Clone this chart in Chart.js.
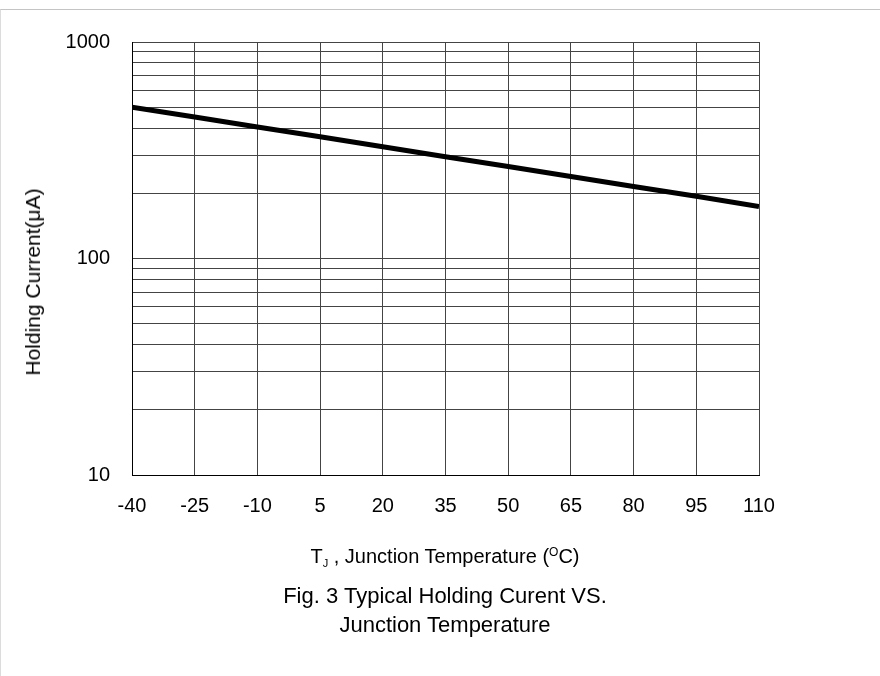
<!DOCTYPE html>
<html>
<head>
<meta charset="utf-8">
<script src="https://cdn.jsdelivr.net/npm/chart.js@4/dist/chart.umd.min.js"></script>
<style>
    html, body { margin: 0; padding: 0; background: #fff; }
    body { width: 880px; height: 676px; position: relative; overflow: hidden;
           font-family: "Liberation Sans", Arial, sans-serif; color: #000; }
    #frame { position: absolute; left: 0; top: 9px; width: 880px; height: 667px;
             border-top: 1px solid #c4c4c4; border-left: 1px solid #dcdcdc; box-sizing: border-box; }
    #chart { position: absolute; left: 0; top: 0; }
    .txt { position: absolute; white-space: nowrap; }
    #y-title { left: 33px; top: 282px; font-size: 21px; line-height: 24px;
               transform: translate(-50%, -50%) rotate(-90deg); }
    #x-title { left: 445px; top: 544px; font-size: 20px; line-height: 24px;
               transform: translateX(-50%); }
    #x-title sub { font-size: 11px; vertical-align: -4px; line-height: 0; }
    #x-title sup { font-size: 12px; vertical-align: 7px; line-height: 0; }
    #caption { left: 445px; top: 581px; font-size: 22px; line-height: 29px;
               transform: translateX(-50%); text-align: center; }
</style>
</head>
<body>
<div id="frame"></div>
<canvas id="chart" width="880" height="676"></canvas>
<div class="txt" id="y-title">Holding Current(μA)</div>
<div class="txt" id="x-title">T<sub>J</sub> , Junction Temperature (<sup>O</sup>C)</div>
<div class="txt" id="caption">Fig. 3 Typical Holding Curent VS.<br>Junction Temperature</div>

<script>
/***************************************************************
 * DONNÉES
 ***************************************************************/
const temperatures = [-40, -25, -10, 5, 20, 35, 50, 65, 80, 95, 110];
const holdingCurrent = [500, 450, 405, 365, 328, 295, 266, 239, 215, 194, 174];

const xTicks = [-40, -25, -10, 5, 20, 35, 50, 65, 80, 95, 110];
const yGrid = [10, 20, 30, 40, 50, 60, 70, 80, 90,
               100, 200, 300, 400, 500, 600, 700, 800, 900, 1000];
const yLabels = [10, 100, 1000];

/***************************************************************
 * GRAPHIQUE
 ***************************************************************/
const gridColor = "#444";
const tickFont = { family: "Liberation Sans", size: 20 };

new Chart(document.getElementById("chart"), {
    type: "line",
    data: {
        datasets: [{
            data: temperatures.map((t, i) => ({ x: t, y: holdingCurrent[i] })),
            borderColor: "#000",
            borderWidth: 5,
            pointRadius: 0,
            tension: 0,
            fill: false
        }]
    },
    options: {
        responsive: false,
        animation: false,
        devicePixelRatio: 1,
        layout: { padding: { left: 0, right: 121, top: 42, bottom: 0 } },
        plugins: { legend: { display: false }, tooltip: { enabled: false } },
        scales: {
            x: {
                type: "linear",
                min: -40,
                max: 110,
                afterBuildTicks: s => { s.ticks = xTicks.map(v => ({ value: v })); },
                afterFit: s => { s.height = 201; },
                grid: { color: gridColor, lineWidth: 1, drawTicks: false },
                border: { color: "#000", width: 1 },
                ticks: { color: "#000", font: tickFont, padding: 19, maxRotation: 0, autoSkip: false }
            },
            y: {
                type: "logarithmic",
                min: 10,
                max: 1000,
                afterBuildTicks: s => { s.ticks = yGrid.map(v => ({ value: v })); },
                afterFit: s => { s.width = 132; },
                grid: { color: gridColor, lineWidth: 1, drawTicks: false },
                border: { color: "#000", width: 1 },
                ticks: {
                    color: "#000",
                    font: tickFont,
                    padding: 22,
                    autoSkip: false,
                    callback: v => yLabels.includes(v) ? String(v) : ""
                }
            }
        }
    }
});
</script>
</body>
</html>
